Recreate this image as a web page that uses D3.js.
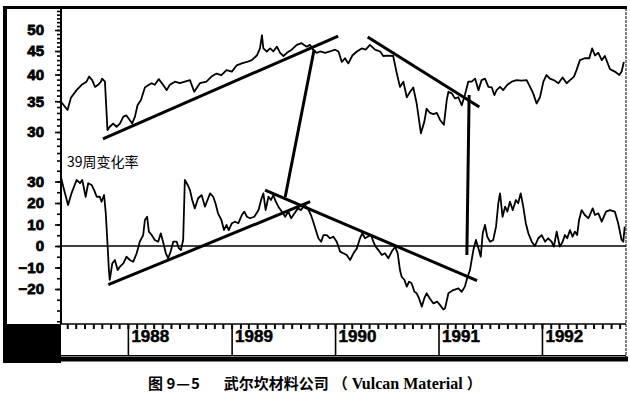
<!DOCTYPE html>
<html>
<head>
<meta charset="utf-8">
<script src="https://cdn.jsdelivr.net/npm/d3@7"></script>
<style>
  body { margin: 0; background: #fff; }
  svg { display: block; }
</style>
</head>
<body>
<svg id="chart" width="630" height="403"></svg>
<script>
// price (decimal year / close)
const priceDates = [1987.353,1987.417,1987.449,1987.504,1987.553,1987.601,1987.626,1987.655,1987.681,1987.713,1987.739,1987.752,1987.778,1987.787,1987.804,1987.826,1987.858,1987.891,1987.923,1987.955,1987.987,1988.019,1988.042,1988.068,1988.094,1988.126,1988.164,1988.203,1988.229,1988.261,1988.300,1988.341,1988.374,1988.406,1988.454,1988.502,1988.551,1988.599,1988.641,1988.696,1988.760,1988.809,1988.857,1988.905,1988.954,1989.002,1989.050,1989.099,1989.147,1989.195,1989.243,1989.275,1989.292,1989.307,1989.340,1989.372,1989.404,1989.437,1989.469,1989.501,1989.533,1989.582,1989.630,1989.678,1989.727,1989.758,1989.790,1989.823,1989.855,1989.903,1989.952,1990.000,1990.032,1990.065,1990.097,1990.129,1990.167,1990.210,1990.258,1990.297,1990.338,1990.386,1990.435,1990.467,1990.515,1990.563,1990.596,1990.628,1990.660,1990.693,1990.725,1990.757,1990.789,1990.831,1990.863,1990.886,1990.918,1990.950,1990.983,1991.014,1991.053,1991.079,1991.095,1991.128,1991.159,1991.191,1991.224,1991.256,1991.288,1991.321,1991.353,1991.385,1991.417,1991.449,1991.481,1991.514,1991.539,1991.562,1991.594,1991.626,1991.665,1991.707,1991.756,1991.804,1991.852,1991.884,1991.916,1991.949,1991.981,1992.013,1992.045,1992.077,1992.116,1992.158,1992.200,1992.239,1992.271,1992.309,1992.335,1992.367,1992.415,1992.457,1992.486,1992.512,1992.544,1992.577,1992.609,1992.657,1992.705,1992.747,1992.770,1992.792];
const priceValues = [34.9,33.5,35.6,37.0,38.0,38.6,39.6,38.9,37.6,38.0,38.6,39.2,38.6,35.6,30.3,30.8,31.3,30.8,31.3,32.4,32.6,31.8,31.3,32.4,34.3,35.2,37.5,38.0,38.3,38.0,39.1,38.0,37.0,38.0,38.6,38.3,38.6,38.9,36.7,38.3,38.6,39.6,40.2,39.9,40.9,40.6,41.9,42.3,42.6,43.0,44.0,45.6,48.7,45.6,44.9,45.6,44.9,46.0,44.6,43.9,44.6,45.3,46.4,46.8,46.0,46.4,45.3,44.6,44.9,44.6,44.9,45.3,44.9,42.6,43.4,42.3,44.0,44.9,45.6,45.3,46.4,45.3,44.9,43.9,44.0,43.9,40.2,37.6,38.6,35.7,36.7,37.5,34.6,29.8,31.6,33.7,33.0,32.8,33.0,31.9,31.1,35.2,36.7,36.4,35.5,35.7,34.3,36.1,38.6,38.6,39.2,37.0,38.9,39.2,37.6,37.5,36.1,37.0,37.6,37.0,38.0,38.6,38.9,38.8,38.9,37.6,36.4,34.6,35.7,38.6,39.9,39.2,38.9,38.3,39.4,38.3,38.9,39.6,40.9,43.0,43.4,43.4,45.6,44.0,44.6,43.0,43.9,41.1,40.6,39.9,40.6,42.6];

// 39-week rate of change
const rocDates = [1987.353,1987.375,1987.423,1987.456,1987.504,1987.536,1987.558,1987.591,1987.616,1987.649,1987.674,1987.698,1987.729,1987.746,1987.771,1987.785,1987.804,1987.816,1987.826,1987.848,1987.874,1987.900,1987.923,1987.955,1987.987,1988.019,1988.051,1988.084,1988.116,1988.148,1988.164,1988.186,1988.203,1988.229,1988.261,1988.293,1988.319,1988.341,1988.367,1988.389,1988.413,1988.438,1988.471,1988.493,1988.512,1988.534,1988.551,1988.577,1988.599,1988.621,1988.647,1988.679,1988.712,1988.744,1988.770,1988.795,1988.824,1988.847,1988.872,1988.905,1988.930,1988.954,1988.976,1989.002,1989.034,1989.066,1989.099,1989.124,1989.147,1989.179,1989.220,1989.259,1989.285,1989.307,1989.330,1989.356,1989.382,1989.404,1989.427,1989.452,1989.485,1989.517,1989.549,1989.575,1989.607,1989.640,1989.671,1989.703,1989.736,1989.768,1989.790,1989.814,1989.839,1989.865,1989.887,1989.920,1989.952,1989.984,1990.016,1990.048,1990.080,1990.113,1990.145,1990.177,1990.210,1990.242,1990.264,1990.290,1990.316,1990.348,1990.370,1990.393,1990.418,1990.451,1990.483,1990.515,1990.548,1990.580,1990.606,1990.628,1990.645,1990.670,1990.693,1990.715,1990.741,1990.766,1990.789,1990.812,1990.838,1990.863,1990.886,1990.918,1990.950,1990.986,1991.014,1991.046,1991.063,1991.095,1991.143,1991.191,1991.224,1991.256,1991.278,1991.304,1991.321,1991.337,1991.362,1991.385,1991.408,1991.428,1991.449,1991.472,1991.498,1991.530,1991.556,1991.578,1991.594,1991.620,1991.643,1991.665,1991.691,1991.717,1991.749,1991.771,1991.794,1991.819,1991.845,1991.868,1991.900,1991.932,1991.964,1991.997,1992.029,1992.061,1992.094,1992.116,1992.142,1992.172,1992.200,1992.222,1992.244,1992.271,1992.296,1992.319,1992.341,1992.360,1992.384,1992.415,1992.448,1992.490,1992.512,1992.544,1992.577,1992.618,1992.657,1992.705,1992.737,1992.770,1992.785,1992.800];
const rocValues = [32.0,27.6,19.1,24.5,30.7,29.2,30.7,22.9,29.2,28.4,26.0,22.9,22.9,20.6,23.7,15.2,1.3,-11.2,-15.8,-8.1,-6.5,-11.2,-9.6,-8.1,-5.0,-6.5,-7.3,-3.4,2.0,5.1,12.1,13.6,6.7,5.1,2.8,2.0,5.9,2.0,-3.4,-5.7,-2.6,2.0,2.0,-1.1,-1.9,2.8,30.7,28.4,26.0,21.4,17.5,22.2,23.7,18.3,21.4,24.5,22.9,19.9,15.2,12.1,7.4,9.8,7.4,10.6,11.3,10.6,14.4,16.0,13.6,12.9,13.6,16.7,21.4,24.5,16.7,22.9,21.4,23.7,20.6,18.3,16.0,13.6,16.0,12.9,15.2,17.5,16.7,19.1,17.5,14.4,11.3,7.4,3.6,2.0,5.1,5.1,3.6,4.3,2.0,-2.6,-3.4,-4.2,-6.5,-3.4,-1.1,3.6,5.9,3.6,4.3,5.1,2.0,-0.3,-1.9,-4.2,-3.4,-5.7,-2.6,-0.3,-3.4,-11.2,-14.3,-15.8,-18.9,-16.6,-17.3,-21.3,-22.0,-24.3,-28.2,-24.3,-22.0,-24.5,-26.7,-25.9,-27.4,-29.5,-29.0,-22.0,-20.5,-19.7,-21.3,-18.9,-15.0,-11.2,-6.5,-1.9,2.8,-1.1,-5.0,5.9,9.8,4.3,2.0,2.8,9.0,19.9,24.5,13.6,18.3,16.0,20.6,16.7,21.4,19.9,24.5,18.3,10.6,5.9,2.0,0.0,3.6,5.1,2.0,3.6,2.0,-0.3,6.7,-0.3,2.0,5.1,3.6,7.4,4.3,6.7,5.1,12.1,16.7,14.4,12.9,17.5,14.4,15.2,11.3,16.0,16.7,16.0,10.6,2.8,2.0,9.0];

const priceTicks = [30, 35, 40, 45, 50];
const rocTicks = [30, 20, 10, 0, -10, -20];
const yearLabels = [1988, 1989, 1990, 1991, 1992];

// hand-drawn trend lines: [date, value] endpoints
const priceTrendUp = [[1987.758, 29.0], [1990.029, 48.5]];
const priceTrendDown = [[1990.316, 48.3], [1991.394, 34.0]];
const rocTrendUp = [[1987.810, -18.0], [1989.758, 20.6]];
const rocTrendDown = [[1989.324, 26.0], [1991.372, -16.1]];
// links from the ROC pane up to the price pane: [date, roc] -> [date, price]
const linkOne = [[1989.517, 22.8], [1989.797, 45.3]];
const linkTwo = [[1991.275, -4.2], [1991.295, 36.1]];

function toDate(t) {
  const y = Math.floor(t);
  return new Date(y, 0, 1 + Math.round((t - y) * 365));
}

const svg = d3.select('#chart');

const x = d3.scaleTime()
  .domain([toDate(1987.353), toDate(1992.802)])
  .range([61, 625]);

const yPrice = d3.scaleLog().domain([30, 50]).range([132, 30]);
const yRoc = d3.scaleLinear().domain([0, 30]).range([246, 181.5]);

// frame
svg.append('rect').attr('x', 3).attr('y', 6).attr('width', 4).attr('height', 357).attr('fill', '#000');
svg.append('line').attr('x1', 3).attr('x2', 627).attr('y1', 7.5).attr('y2', 7.5)
  .attr('stroke', '#000').attr('stroke-width', 3);
svg.append('line').attr('x1', 626).attr('x2', 626).attr('y1', 8).attr('y2', 357)
  .attr('stroke', '#000').attr('stroke-width', 1).attr('stroke-dasharray', '3,1');
svg.append('rect').attr('x', 5).attr('y', 324).attr('width', 56).attr('height', 39).attr('fill', '#000');
svg.append('line').attr('x1', 5).attr('x2', 628).attr('y1', 359).attr('y2', 359)
  .attr('stroke', '#000').attr('stroke-width', 5);
svg.append('line').attr('x1', 61).attr('x2', 61).attr('y1', 8).attr('y2', 324)
  .attr('stroke', '#000').attr('stroke-width', 2);

// y axes
function styleAxis(g, size) {
  g.select('.domain').remove();
  g.selectAll('line').attr('stroke', '#000').attr('stroke-width', 1.6);
  g.selectAll('text')
    .attr('fill', '#000')
    .attr('stroke', '#000')
    .attr('stroke-width', 0.8)
    .style('font-family', '"Liberation Sans", Arial, sans-serif')
    .style('font-weight', 'bold')
    .style('font-size', size + 'px');
}

const priceMinor = d3.range(26, 56);
svg.append('g').attr('transform', 'translate(61,0)')
  .call(d3.axisLeft(yPrice).tickValues(priceMinor).tickSize(4).tickFormat(''))
  .call(g => styleAxis(g, 15));
svg.append('g').attr('transform', 'translate(61,0)')
  .call(d3.axisLeft(yPrice).tickValues(priceTicks).tickSize(6).tickPadding(11).tickFormat(d3.format('d')))
  .call(g => styleAxis(g, 15));

const rocMinor = d3.range(-35, 36, 5);
svg.append('g').attr('transform', 'translate(61,0)')
  .call(d3.axisLeft(yRoc).tickValues(rocMinor).tickSize(4).tickFormat(''))
  .call(g => styleAxis(g, 15));
svg.append('g').attr('transform', 'translate(61,0)')
  .call(d3.axisLeft(yRoc).tickValues(rocTicks).tickSize(6).tickPadding(11).tickFormat(d3.format('d')))
  .call(g => styleAxis(g, 15));

// zero line
svg.append('line')
  .attr('x1', 61).attr('x2', 626)
  .attr('y1', yRoc(0)).attr('y2', yRoc(0))
  .attr('stroke', '#000').attr('stroke-width', 1.6);

// x axis strip
const monthAxis = svg.append('g').attr('transform', 'translate(0,324)')
  .call(d3.axisBottom(x).ticks(d3.timeMonth.every(1)).tickSize(5).tickFormat(''));
monthAxis.select('.domain').remove();
monthAxis.selectAll('line').attr('stroke', '#000').attr('stroke-width', 2);

svg.append('line').attr('x1', 61).attr('x2', 626).attr('y1', 324).attr('y2', 324)
  .attr('stroke', '#000').attr('stroke-width', 1.6);
svg.append('line').attr('x1', 61).attr('x2', 626).attr('y1', 355.5).attr('y2', 355.5)
  .attr('stroke', '#000').attr('stroke-width', 1);

const yearAxis = svg.append('g').attr('transform', 'translate(0,324)')
  .call(d3.axisBottom(x)
    .tickValues(yearLabels.map(y => new Date(y, 0, 1)))
    .tickSize(32)
    .tickFormat(d => d.getFullYear()));
yearAxis.select('.domain').remove();
yearAxis.selectAll('line').attr('stroke', '#000').attr('stroke-width', 1.6);
yearAxis.selectAll('text')
  .attr('text-anchor', 'start')
  .attr('x', 3)
  .attr('y', 18)
  .attr('dy', 0)
  .attr('fill', '#000')
  .attr('stroke', '#000')
  .attr('stroke-width', 0.5)
  .style('font-family', '"Liberation Sans Narrow", "Liberation Sans", sans-serif')
  .style('font-weight', 'bold')
  .style('font-size', '17px');

// series
const priceData = priceDates.map((t, i) => ({ date: toDate(t), value: priceValues[i] }));
const rocData = rocDates.map((t, i) => ({ date: toDate(t), value: rocValues[i] }));

svg.append('path')
  .datum(priceData)
  .attr('fill', 'none')
  .attr('stroke', '#000')
  .attr('stroke-width', 1.8)
  .attr('stroke-linejoin', 'round')
  .attr('d', d3.line().x(d => x(d.date)).y(d => yPrice(d.value)));

svg.append('path')
  .datum(rocData)
  .attr('fill', 'none')
  .attr('stroke', '#000')
  .attr('stroke-width', 1.8)
  .attr('stroke-linejoin', 'round')
  .attr('d', d3.line().x(d => x(d.date)).y(d => yRoc(d.value)));

// trend lines
function trend(points, yA, yB) {
  svg.append('line')
    .attr('x1', x(toDate(points[0][0]))).attr('y1', yA(points[0][1]))
    .attr('x2', x(toDate(points[1][0]))).attr('y2', yB(points[1][1]))
    .attr('stroke', '#000')
    .attr('stroke-width', 3);
}
trend(priceTrendUp, yPrice, yPrice);
trend(priceTrendDown, yPrice, yPrice);
trend(rocTrendUp, yRoc, yRoc);
trend(rocTrendDown, yRoc, yRoc);
trend(linkOne, yRoc, yPrice);
trend(linkTwo, yRoc, yPrice);

// labels
svg.append('text')
  .attr('x', 67).attr('y', 167)
  .style('font-family', '"Noto Sans CJK SC", sans-serif')
  .style('font-size', '14px')
  .attr('fill', '#000')
  .text('39周变化率');

const caption = svg.append('text')
  .attr('x', 148).attr('y', 389)
  .attr('xml:space', 'preserve')
  .style('font-family', '"Noto Sans CJK SC", sans-serif')
  .style('font-weight', 'bold')
  .style('font-size', '15px')
  .attr('fill', '#000');
caption.append('tspan').text('图 9');
caption.append('tspan').attr('dx', 1).text('—');
caption.append('tspan').attr('dx', 1).text('5');
caption.append('tspan').attr('dx', 24).text('武尔坎材料公司');
caption.append('tspan').attr('dx', 4).text('（');
caption.append('tspan')
  .style('font-family', '"Liberation Serif", serif')
  .style('font-size', '16px')
  .text(' Vulcan Material ');
caption.append('tspan').text('）');
</script>
</body>
</html>
